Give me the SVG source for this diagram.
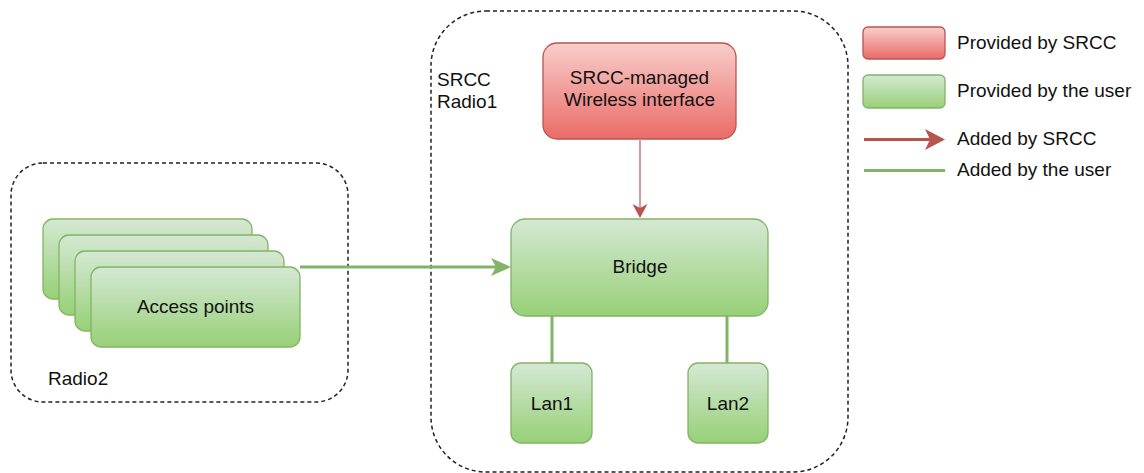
<svg xmlns="http://www.w3.org/2000/svg" width="1144" height="473" viewBox="0 0 1144 473">
<style>
text{font-family:"Liberation Sans",Arial,sans-serif;font-size:19px;fill:#111}
.c{text-anchor:middle}
.red{fill:url(#gr);stroke:#b85450;stroke-width:1.3}
.grn{fill:url(#gg);stroke:#82b366;stroke-width:1.3}
.cont{fill:none;stroke:#222;stroke-width:1.5;stroke-dasharray:4 3}
.gl{stroke:#82b366;stroke-width:3;fill:none}
</style>
<defs>
<linearGradient id="gr" x1="0" y1="0" x2="0" y2="1"><stop offset="0" stop-color="#f8cecc"/><stop offset="1" stop-color="#ea6b66"/></linearGradient>
<linearGradient id="gg" x1="0" y1="0" x2="0" y2="1"><stop offset="0" stop-color="#d5e8d4"/><stop offset="1" stop-color="#97d077"/></linearGradient>
<marker id="ag" markerUnits="userSpaceOnUse" viewBox="0 0 20 18" markerWidth="20" markerHeight="18" refX="9" refY="9" orient="auto"><path d="M0,0 L20,9 L0,18 L5,9 Z" fill="#82b366"/></marker>
<marker id="ar" markerUnits="userSpaceOnUse" viewBox="0 0 14 15" markerWidth="14" markerHeight="15" refX="4" refY="7.5" orient="auto"><path d="M0,0 L14,7.5 L0,15 L4,7.5 Z" fill="#b85450"/></marker>
<marker id="arl" markerUnits="userSpaceOnUse" viewBox="0 0 20 21" markerWidth="20" markerHeight="21" refX="5" refY="10.5" orient="auto"><path d="M0,0 L20,10.5 L0,21 L5,10.5 Z" fill="#b85450"/></marker>
</defs>
<g id="radio2">
<rect class="cont" x="11" y="163" width="337" height="239" rx="32"/>
<text x="48" y="385">Radio2</text>
</g>
<g id="radio1">
<rect class="cont" x="431" y="11" width="417" height="461" rx="55"/>
<text x="437" y="86">SRCC</text>
<text x="437" y="108">Radio1</text>
</g>
<g id="access-points">
<rect class="grn" x="43" y="219" width="209" height="80" rx="10"/>
<rect class="grn" x="59" y="235" width="209" height="80" rx="10"/>
<rect class="grn" x="75" y="251" width="209" height="80" rx="10"/>
<rect class="grn" x="91" y="267" width="209" height="80" rx="10"/>
<text class="c" x="195.5" y="313">Access points</text>
</g>
<g id="wireless">
<rect class="red" x="543" y="43" width="193" height="96" rx="14"/>
<text class="c" x="639.5" y="84">SRCC-managed</text>
<text class="c" x="639.5" y="106">Wireless interface</text>
</g>
<g id="bridge">
<rect class="grn" x="511" y="219" width="257" height="97" rx="14"/>
<text class="c" x="640" y="273">Bridge</text>
</g>
<g id="lan1">
<rect class="grn" x="511" y="363" width="81" height="80" rx="10"/>
<text class="c" x="552" y="410">Lan1</text>
</g>
<g id="lan2">
<rect class="grn" x="688" y="363" width="80" height="80" rx="10"/>
<text class="c" x="728" y="410">Lan2</text>
</g>
<g id="connectors">
<line class="gl" x1="300" y1="267" x2="500" y2="267" marker-end="url(#ag)"/>
<line x1="640" y1="139" x2="640" y2="208" stroke="#d8999a" stroke-width="2" marker-end="url(#ar)"/>
<line class="gl" x1="552" y1="316" x2="552" y2="363"/>
<line class="gl" x1="727" y1="316" x2="727" y2="363"/>
</g>
<g id="legend">
<rect class="red" x="863" y="27" width="82" height="32" rx="5"/>
<text x="957" y="49">Provided by SRCC</text>
<rect class="grn" x="863" y="75" width="82" height="33" rx="5"/>
<text x="957" y="97">Provided by the user</text>
<line x1="864" y1="139.5" x2="930" y2="139.5" stroke="#b85450" stroke-width="3" marker-end="url(#arl)"/>
<text x="957" y="145">Added by SRCC</text>
<line class="gl" x1="864" y1="170.5" x2="945" y2="170.5"/>
<text x="957" y="176">Added by the user</text>
</g>
</svg>
